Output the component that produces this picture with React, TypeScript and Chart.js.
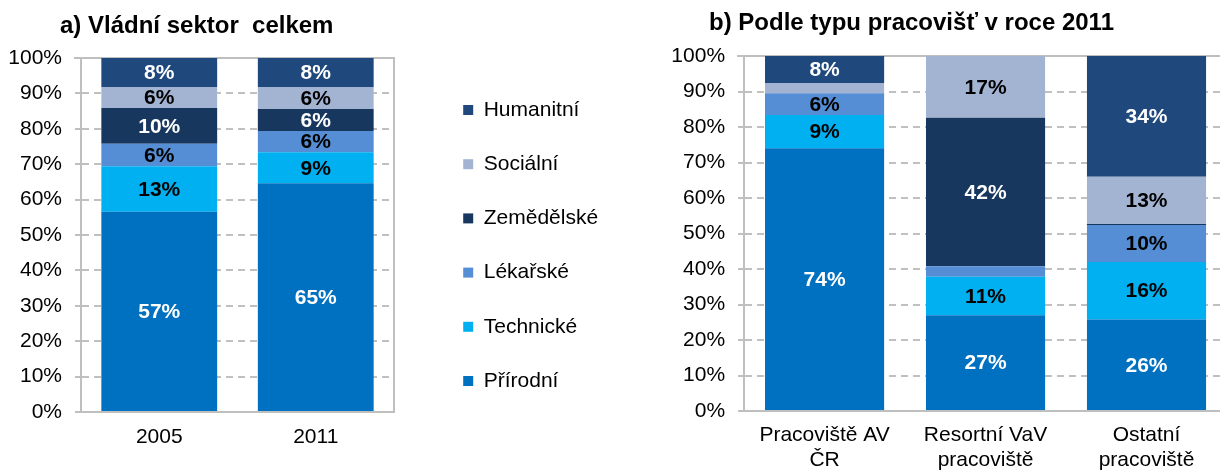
import React, { useEffect, useRef } from 'react';
import { Chart, registerables } from 'chart.js';

Chart.register(...registerables);

// ---------- data ----------
const SERIES = ['Přírodní', 'Technické', 'Lékařské', 'Zemědělské', 'Sociální', 'Humanitní'];

const LEFT_TITLE = 'a) Vládní sektor  celkem';
const LEFT_CATEGORIES = ['2005', '2011'];
const leftPrirodni = [56.6, 64.6];
const leftTechnicke = [12.8, 8.8];
const leftLekarske = [6.4, 6.0];
const leftZemedelske = [10.1, 6.2];
const leftSocialni = [5.9, 6.2];
const leftHumanitni = [8.2, 8.2];

const RIGHT_TITLE = 'b) Podle typu pracovišť v roce 2011';
const RIGHT_CATEGORIES = [['Pracoviště AV', 'ČR'], ['Resortní VaV', 'pracoviště'], ['Ostatní', 'pracoviště']];
const rightPrirodni = [74.0, 27.0, 25.8];
const rightTechnicke = [9.4, 10.8, 16.2];
const rightLekarske = [6.1, 3.0, 10.4];
const rightZemedelske = [0, 41.8, 0.3];
const rightSocialni = [2.9, 17.4, 13.3];
const rightHumanitni = [7.6, 0, 34.0];

const Y_MIN = 0;
const Y_MAX = 100;
const Y_STEP = 10;
const LABEL_MIN = 4;

// ---------- styles ----------
const FONT = "'Liberation Sans', Arial, sans-serif";
const COLORS = ['#0070C0', '#00B0F0', '#558ED5', '#17375E', '#A3B4D3', '#1F487C'];
const LABEL_COLORS = ['#FFFFFF', '#000000', '#000000', '#FFFFFF', '#000000', '#FFFFFF'];
const GRID = '#C0C0C0';
const AXIS = '#BFBFBF';

Chart.defaults.font.family = FONT;
Chart.defaults.color = '#000';

const barLabels = {
  id: 'barLabels',
  afterDatasetsDraw(chart: any) {
    const ctx = chart.ctx;
    ctx.save();
    ctx.font = `bold 21px ${FONT}`;
    ctx.textAlign = 'center';
    ctx.textBaseline = 'middle';
    chart.data.datasets.forEach((ds: any, i: number) => {
      const meta = chart.getDatasetMeta(i);
      if (meta.hidden) return;
      meta.data.forEach((el: any, j: number) => {
        const v = ds.data[j];
        if (v == null || v < LABEL_MIN) return;
        const p = el.getProps(['x', 'y', 'base'], true);
        ctx.fillStyle = ds.labelColor;
        ctx.fillText(Math.round(v) + '%', p.x, (p.y + p.base) / 2 + 1);
      });
    });
    ctx.restore();
  },
};

const panelTitle = {
  id: 'panelTitle',
  afterDraw(chart: any, _args: any, opts: any) {
    if (!opts || !opts.text) return;
    const ctx = chart.ctx;
    ctx.save();
    ctx.font = `bold ${opts.size}px ${FONT}`;
    ctx.textAlign = 'left';
    ctx.textBaseline = 'alphabetic';
    ctx.fillStyle = '#000';
    ctx.fillText(opts.text, opts.x, opts.y);
    ctx.restore();
  },
};

const frame = {
  id: 'frame',
  beforeDatasetsDraw(chart: any, _args: any, opts: any) {
    const { ctx, chartArea } = chart;
    ctx.save();
    ctx.strokeStyle = AXIS;
    ctx.lineWidth = 2;
    ctx.beginPath();
    ctx.moveTo(chartArea.left - 7, chartArea.top);
    ctx.lineTo(chartArea.right + 1, chartArea.top);
    if (opts && opts.right) {
      ctx.moveTo(chartArea.right, chartArea.top - 1);
      ctx.lineTo(chartArea.right, chartArea.bottom);
    }
    ctx.stroke();
    ctx.restore();
  },
};

function makeDatasets(values: number[][]) {
  return SERIES.map((name, i) => ({
    label: name,
    data: values[i],
    backgroundColor: COLORS[i],
    borderWidth: 0,
    labelColor: LABEL_COLORS[i],
    barPercentage: 0.74,
    categoryPercentage: 1,
  }));
}

function scales(yWidth: number, xHeight: number, xPad: number) {
  return {
    x: {
      stacked: true,
      grid: { color: 'rgba(0,0,0,0)', drawTicks: false },
      border: { color: AXIS, width: 2 },
      ticks: {
        color: '#000',
        font: { size: 21, lineHeight: 1.17 },
        padding: xPad,
        maxRotation: 0,
        autoSkip: false,
      },
      afterFit: (s: any) => {
        s.height = xHeight;
      },
    },
    y: {
      stacked: true,
      min: Y_MIN,
      max: Y_MAX,
      ticks: {
        stepSize: Y_STEP,
        color: '#000',
        font: { size: 21 },
        padding: 13,
        callback: (v: any) => v + '%',
      },
      grid: {
        color: (c: any) => (c.tick && c.tick.value === Y_MAX ? 'rgba(0,0,0,0)' : GRID),
        lineWidth: 2,
        tickColor: AXIS,
        tickWidth: 2,
        tickLength: 6,
        drawTicks: true,
      },
      border: { color: AXIS, width: 2, dash: [7, 5] },
      afterFit: (s: any) => {
        s.width = yWidth;
      },
    },
  };
}

export default function App() {
  const leftRef = useRef<HTMLCanvasElement | null>(null);
  const rightRef = useRef<HTMLCanvasElement | null>(null);

  useEffect(() => {
    const left = new Chart(leftRef.current as HTMLCanvasElement, {
      type: 'bar',
      data: {
        labels: LEFT_CATEGORIES,
        datasets: makeDatasets([
          leftPrirodni,
          leftTechnicke,
          leftLekarske,
          leftZemedelske,
          leftSocialni,
          leftHumanitni,
        ]) as any,
      },
      options: {
        responsive: false,
        animation: false,
        layout: { padding: { top: 58, right: 16, bottom: 0, left: 0 } },
        plugins: {
          legend: { display: false },
          tooltip: { enabled: false },
          panelTitle: { text: LEFT_TITLE, x: 60, y: 33, size: 24 },
          frame: { right: true },
        } as any,
        scales: scales(81, 58, 13) as any,
      },
      plugins: [barLabels, panelTitle, frame],
    });

    const right = new Chart(rightRef.current as HTMLCanvasElement, {
      type: 'bar',
      data: {
        labels: RIGHT_CATEGORIES as any,
        datasets: makeDatasets([
          rightPrirodni,
          rightTechnicke,
          rightLekarske,
          rightZemedelske,
          rightSocialni,
          rightHumanitni,
        ]) as any,
      },
      options: {
        responsive: false,
        animation: false,
        layout: { padding: { top: 56, right: 13, bottom: 0, left: 0 } },
        plugins: {
          legend: {
            display: true,
            position: 'left',
            align: 'start',
            reverse: true,
            maxWidth: 180,
            title: { display: true, text: '', font: { size: 10, lineHeight: 1 }, padding: { top: 0.3, bottom: 0 } },
            labels: {
              boxWidth: 10,
              boxHeight: 10,
              padding: 33.2,
              color: '#000',
              font: { size: 21 },
            },
          },
          tooltip: { enabled: false },
          panelTitle: { text: RIGHT_TITLE, x: 279, y: 30, size: 24 },
          frame: { right: false },
        } as any,
        scales: scales(136, 59, 12) as any,
      },
      plugins: [barLabels, panelTitle, frame],
    });

    return () => {
      left.destroy();
      right.destroy();
    };
  }, []);

  return (
    <div
      style={{
        position: 'fixed',
        left: 0,
        top: 0,
        width: 1220,
        height: 470,
        overflow: 'hidden',
        background: '#fff',
      }}
    >
      <canvas ref={leftRef} width={410} height={470} style={{ position: 'absolute', left: 0, top: 0 }} />
      <canvas ref={rightRef} width={810} height={470} style={{ position: 'absolute', left: 430, top: 0 }} />
    </div>
  );
}
